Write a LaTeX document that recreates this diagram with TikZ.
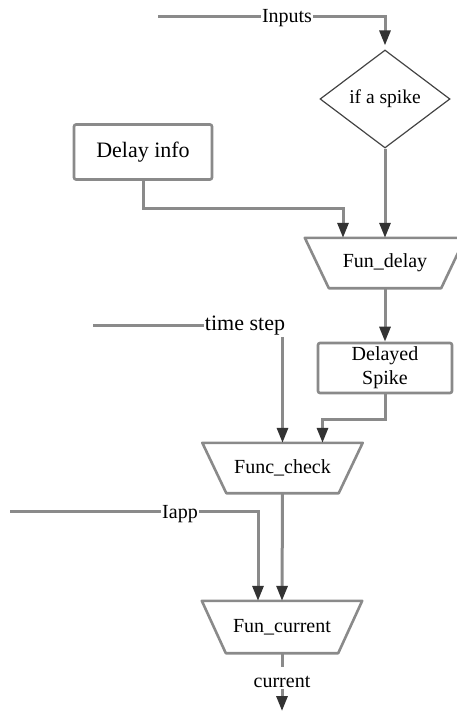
\documentclass[tikz,border=0pt]{standalone}
\usepackage{fontspec}
\setmainfont{Liberation Serif}
\newfontfamily\diagfont{Liberation Serif}
\usetikzlibrary{arrows.meta,calc,shapes.geometric}
\definecolor{wiregray}{HTML}{8A8A8A}
\definecolor{tipgray}{HTML}{333333}
\definecolor{edgegray}{HTML}{444444}
\begin{document}
\begin{tikzpicture}[x=1pt,y=-1pt,
  wire/.style={draw=wiregray,line width=3pt},
  flow/.style={wire,-{Triangle[length=15pt,width=11pt,color=tipgray]}},
  lbl/.style={inner sep=1pt,font=\diagfont\fontsize{20}{24}\selectfont},
  boxnode/.style={draw=wiregray,line width=2.6pt,rounded corners=2pt,fill=white,
    font=\diagfont\fontsize{20}{24}\selectfont,align=center},
  trapnode/.style={minimum width=160pt,minimum height=50pt,inner sep=0pt,
    font=\diagfont\fontsize{20}{24}\selectfont},
  trapline/.style={draw=wiregray,line width=2.6pt,line join=round},
  decision/.style={shape=diamond,draw=edgegray,line width=1.2pt,inner sep=0pt,
    minimum width=130pt,minimum height=98pt,font=\diagfont\fontsize{19.5}{24}\selectfont}
]
\useasboundingbox (0,0) rectangle (457,711);

% blocks
\node[decision] (spike) at (385,99) {if a spike};
\node[boxnode,minimum width=138pt,minimum height=55pt,font=\diagfont\fontsize{22}{26}\selectfont]
  (delayinfo) at (143,152) {Delay info};
\node[trapnode] (fdelay) at (385,263) {Fun\_delay};
\node[boxnode,minimum width=134pt,minimum height=50pt,inner sep=0pt]
  (dspike) at (385,368) {Delayed\\Spike};
\node[trapnode] (fcheck) at (282.5,468) {Func\_check};
\node[trapnode,minimum height=52pt] (fcurrent) at (282,627) {Fun\_current};

% trapezium outlines
\foreach \t in {fdelay,fcheck,fcurrent}{
  \draw[trapline] (\t.north west) -- (\t.north east)
    -- ($(\t.south east)+(-24,0)$) -- ($(\t.south west)+(24,0)$) -- cycle;
}

% signal labels
\node[lbl] (inputs) at (287,18) {Inputs};
\node[lbl,font=\diagfont\fontsize{22}{26}\selectfont] (tstep) at (245,326) {time step};
\node[lbl] (iapp) at (180,514) {Iapp};
\node[lbl] (current) at (282,682) {current};

\coordinate (inStart) at (158,17);
\coordinate (tsStart) at (93,325);
\coordinate (iaStart) at (10,511);
\coordinate (curEnd) at (282,711);

% connectors
\draw[wire] (inStart) -- (inputs.west |- inStart);
\draw[flow,shorten >=4pt] (inputs.east |- inStart) -| (spike.north);
\draw[flow] (spike.south) -- (fdelay.north);
\draw[flow] (delayinfo.south) -- ++(0,28) -| ($(fdelay.north)+(-42,0)$);
\draw[flow] (fdelay.south) -- (dspike.north);
\draw[wire] (tsStart) -- (tstep.west |- tsStart);
\draw[flow] (tstep.south -| fcheck.north) -- (fcheck.north);
\draw[flow] (dspike.south) -- ++(0,25) -| ($(fcheck.north)+(40,0)$);
\draw[flow] (fcheck.south) -- (fcurrent.north);
\draw[wire] (iaStart) -- (iapp.west |- iaStart);
\draw[flow] (iapp.east |- iaStart) -| ($(fcurrent.north)+(-24,0)$);
\draw[wire] (fcurrent.south) -- ++(0,14);
\draw[flow] (current.south) -- (curEnd);
\end{tikzpicture}
\end{document}
